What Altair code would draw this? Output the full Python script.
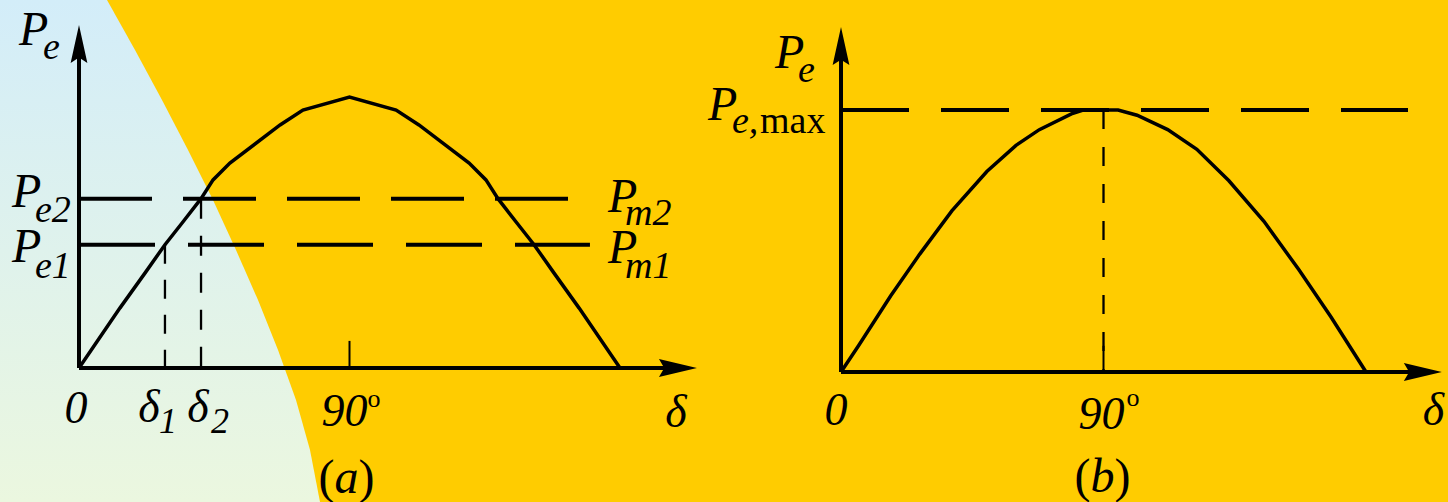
import altair as alt
import pandas as pd

W, H = 1448, 502
FONT = "Liberation Serif"
INK = "black"

# ---- panel (a): power-angle curve with two operating points ----
delta_a = [0, 13.6, 22.0, 28.6, 34.3, 40.6, 44.6, 50.2, 66.9, 74.5, 90.0,
           105.5, 113.1, 129.8, 135.4, 139.4, 145.7, 151.4, 158.0, 166.4, 180.0]
pe_a = [0, 0.221, 0.351, 0.455, 0.535, 0.625, 0.694, 0.756, 0.897, 0.952, 1.0,
        0.952, 0.897, 0.756, 0.694, 0.625, 0.535, 0.455, 0.351, 0.221, 0]
p_e1, p_e2 = 0.455, 0.625          # P_m1 / P_m2 levels
delta_1, delta_2 = 28.6, 40.6      # matching rotor angles
p_line_end = [170.0, 163.0]        # where the P_m1 / P_m2 dashes stop
axis_end_a = [205.6, 1.266]        # delta-axis tip, P-axis tip

# ---- panel (b): curve with its maximum at 90 degrees ----
delta_b = [0, 6, 17, 27, 38, 50, 60, 68, 79, 83, 95, 101.5, 112, 122, 133,
           145, 157, 168, 180]
pe_b = [0, 0.10, 0.29, 0.45, 0.615, 0.765, 0.865, 0.925, 0.985, 1.0, 1.0,
        0.98, 0.925, 0.85, 0.73, 0.575, 0.39, 0.21, 0]
p_max = 1.0
p_max_line_end = 194.4
axis_end_b = [206.0, 1.317]

# ---- light backdrop on the left edge (canvas units) ----
backdrop_y = [0, 50, 100, 150, 200, 250, 300, 350, 400, 450, 502]
backdrop_x = [107, 135, 162, 188, 213, 236, 258, 278, 296, 310, 320]

UP_ARROW = "M0,0 L0.22,1 L0,0.86 L-0.22,1 Z"
RIGHT_ARROW = "M0,0 L-1,-0.235 L-0.86,0 L-1,0.235 Z"
ARROW_SIZE = 76 * 76


def frame(origin_x, origin_y, px_x, px_y):
    xs = alt.Scale(domain=[-origin_x / px_x, (W - origin_x) / px_x], nice=False, zero=False)
    ys = alt.Scale(domain=[-(H - origin_y) / px_y, origin_y / px_y], nice=False, zero=False)
    return xs, ys


PANEL_A = frame(79, 368, 3.0056, 271)
PANEL_B = frame(841, 372, 2.9167, 262)


def enc(panel):
    xs, ys = panel
    return dict(x=alt.X("x:Q", scale=xs, axis=None),
                y=alt.Y("y:Q", scale=ys, axis=None))


def curve(panel, xs, ys, width=3.5):
    df = pd.DataFrame({"x": xs, "y": ys, "i": range(len(xs))})
    return alt.Chart(df).mark_line(color=INK, strokeWidth=width).encode(
        order="i:Q", **enc(panel))


def segment(panel, x0, y0, x1, y1, width=4, dash=None):
    df = pd.DataFrame({"x": [x0], "y": [y0], "x2": [x1], "y2": [y1]})
    kw = dict(color=INK, strokeWidth=width)
    if dash:
        kw["strokeDash"] = dash
    return alt.Chart(df).mark_rule(**kw).encode(
        x2=alt.X2("x2:Q"), y2=alt.Y2("y2:Q"), **enc(panel))


def arrow(panel, x, y, shape):
    df = pd.DataFrame({"x": [x], "y": [y]})
    return alt.Chart(df).mark_point(shape=shape, size=ARROW_SIZE, filled=True,
                                    color=INK, opacity=1, strokeWidth=0).encode(**enc(panel))


def text(panel, s, x, y, dx, dy, size, italic=True, align="left"):
    df = pd.DataFrame({"x": [x], "y": [y], "t": [s]})
    return alt.Chart(df).mark_text(
        font=FONT, fontSize=size, fontStyle="italic" if italic else "normal",
        align=align, baseline="alphabetic", dx=dx, dy=dy, color=INK
    ).encode(text="t:N", **enc(panel))


# backdrop area
bg_df = pd.DataFrame({"bx": backdrop_x, "by": backdrop_y})
backdrop = alt.Chart(bg_df).mark_area(
    orient="horizontal",
    color=alt.LinearGradient(
        gradient="linear",
        stops=[alt.GradientStop(color="#D3EDF9", offset=0),
               alt.GradientStop(color="#EBF7DF", offset=1)],
        x1=0, x2=0, y1=0, y2=1),
).encode(
    x=alt.X("bx:Q", scale=alt.Scale(domain=[0, W], nice=False, zero=False), axis=None, stack=None),
    x2=alt.datum(0),
    y=alt.Y("by:Q", scale=alt.Scale(domain=[0, H], nice=False, zero=False, reverse=True), axis=None),
)

A, B = PANEL_A, PANEL_B
layers = [backdrop]

# panel (a)
layers += [
    segment(A, 0, 0, 0, axis_end_a[1] - 0.08),
    segment(A, 0, 0, axis_end_a[0] - 7, 0),
    arrow(A, 0, axis_end_a[1], UP_ARROW),
    arrow(A, axis_end_a[0], 0, RIGHT_ARROW),
    segment(A, 90, 0, 90, 0.1, width=2),
    segment(A, 0, p_e2, p_line_end[1], p_e2, width=4, dash=[73, 31]),
    segment(A, 0, p_e1, p_line_end[0], p_e1, width=4, dash=[76, 33]),
    segment(A, delta_1, p_e1, delta_1, 0, width=2.3, dash=[19, 16]),
    segment(A, delta_2, p_e2, delta_2, 0, width=2.3, dash=[20, 17]),
    curve(A, delta_a, pe_a),
    text(A, "P", 0, axis_end_a[1], -60, 20, 48),
    text(A, "e", 0, axis_end_a[1], -36, 34, 38),
    text(A, "P", 0, p_e2, -67, 8, 48),
    text(A, "e2", 0, p_e2, -44, 23, 38),
    text(A, "P", 0, p_e1, -67, 17, 48),
    text(A, "e1", 0, p_e1, -44, 33, 38),
    text(A, "P", 0, p_e2, 529, 13, 48),
    text(A, "m2", 0, p_e2, 546, 26, 38),
    text(A, "P", 0, p_e1, 529, 18, 48),
    text(A, "m1", 0, p_e1, 546, 33, 38),
    text(A, "0", 0, 0, -3, 55, 46, align="center"),
    text(A, "δ", delta_1, 0, -16, 54, 46, align="center"),
    text(A, "1", delta_1, 0, 3, 65, 36, align="center"),
    text(A, "δ", delta_2, 0, -3, 54, 46, align="center"),
    text(A, "2", delta_2, 0, 19, 65, 36, align="center"),
    text(A, "90", 90, 0, -5, 58, 46, align="center"),
    text(A, "o", 90, 0, 18, 39, 26, italic=False),
    text(A, "δ", axis_end_a[0], 0, -21, 59, 46, align="center"),
    text(A, "(", 90, 0, -31, 125, 48, italic=False),
    text(A, "a", 90, 0, -15, 125, 48),
    text(A, ")", 90, 0, 9, 125, 48, italic=False),
]

# panel (b)
layers += [
    segment(B, 0, 0, 0, axis_end_b[1] - 0.08),
    segment(B, 0, 0, axis_end_b[0] - 7, 0),
    arrow(B, 0, axis_end_b[1], UP_ARROW),
    arrow(B, axis_end_b[0], 0, RIGHT_ARROW),
    segment(B, 90, 0, 90, 0.1, width=2),
    segment(B, 0, p_max, p_max_line_end, p_max, width=4, dash=[68, 32]),
    segment(B, 90, p_max, 90, 0, width=2.3, dash=[19, 18]),
    curve(B, delta_b, pe_b),
    text(B, "P", 0, axis_end_b[1], -66, 41, 48),
    text(B, "e", 0, axis_end_b[1], -43, 55, 38),
    text(B, "P", 0, p_max, -133, 10, 48),
    text(B, "e,", 0, p_max, -109, 23, 38),
    text(B, "max", 0, p_max, -81, 23, 38, italic=False),
    text(B, "0", 0, 0, -5, 53, 46, align="center"),
    text(B, "90", 90, 0, -2, 57, 46, align="center"),
    text(B, "o", 90, 0, 23, 34, 26, italic=False),
    text(B, "δ", axis_end_b[0], 0, -19, 53, 46),
    text(B, "(", 90, 0, -29, 120, 48, italic=False),
    text(B, "b", 90, 0, -13, 120, 48),
    text(B, ")", 90, 0, 11, 120, 48, italic=False),
]

chart = alt.layer(*layers).resolve_scale(x="independent", y="independent").properties(
    width=W, height=H, padding=0, autosize="none", background="#FFCC00"
).configure_view(stroke=None)

chart.save("out.html", embed_options={"renderer": "svg", "actions": False})
